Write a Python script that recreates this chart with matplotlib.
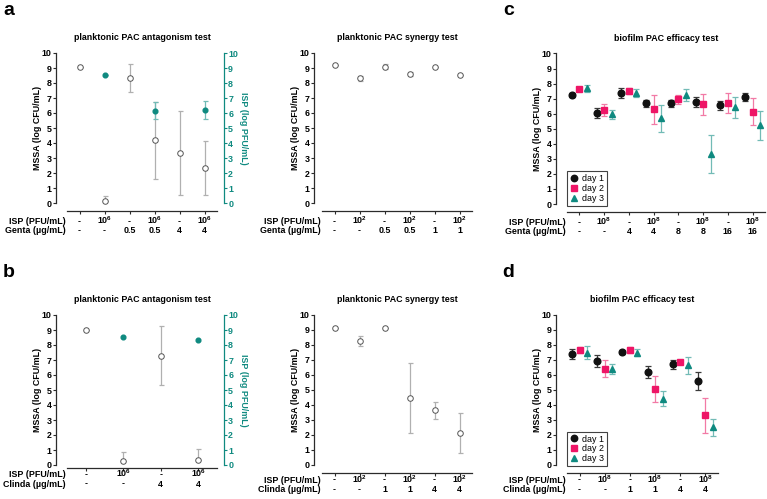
import numpy as np
import matplotlib
matplotlib.use('Agg')
import matplotlib.pyplot as plt
from matplotlib.lines import Line2D

plt.rcParams['font.family'] = ['Liberation Sans', 'DejaVu Sans']
plt.rcParams['font.weight'] = 'bold'
plt.rcParams['axes.titleweight'] = 'bold'
plt.rcParams['axes.labelweight'] = 'bold'
plt.rcParams['mathtext.fontset'] = 'custom'
plt.rcParams['mathtext.rm'] = 'Liberation Sans:bold'
plt.rcParams['mathtext.bf'] = 'Liberation Sans:bold'
plt.rcParams['mathtext.default'] = 'bf'

# ---- panel a: planktonic antagonism (gentamicin) ----
a_isp = ['-', '$10^6$', '-', '$10^6$', '-', '$10^6$']
a_drug = ['-', '-', '0.5', '0.5', '4', '4']
a_mssa = [9.04, 0.16, 8.33, 4.18, 3.33, 2.33]
a_mssa_lo = [9.04, 0.16, 7.40, 1.60, 0.56, 0.56]
a_mssa_hi = [9.04, 0.49, 9.27, 6.73, 6.11, 4.11]
a_phage_x = [1, 3, 5]
a_phage = [8.53, 6.16, 6.22]
a_phage_lo = [8.53, 5.62, 5.62]
a_phage_hi = [8.53, 6.73, 6.82]

# ---- panel a (right): planktonic synergy (gentamicin) ----
a2_isp = ['-', '$10^2$', '-', '$10^2$', '-', '$10^2$']
a2_drug = ['-', '-', '0.5', '0.5', '1', '1']
a2_mssa = [9.18, 8.31, 9.09, 8.62, 9.04, 8.51]
a2_mssa_lo = [9.18, 8.14, 8.93, 8.50, 9.04, 8.51]
a2_mssa_hi = [9.18, 8.46, 9.25, 8.74, 9.04, 8.51]

# ---- panel b: planktonic antagonism (clindamycin) ----
b_isp = ['-', '$10^6$', '-', '$10^6$']
b_drug = ['-', '-', '4', '4']
b_mssa = [9.00, 0.27, 7.29, 0.33]
b_mssa_lo = [9.00, 0.27, 5.31, 0.33]
b_mssa_hi = [9.00, 0.87, 9.29, 1.04]
b_phage_x = [1, 3]
b_phage = [8.53, 8.36]

# ---- panel b (right): planktonic synergy (clindamycin) ----
b2_isp = ['-', '$10^2$', '-', '$10^2$', '-', '$10^2$']
b2_drug = ['-', '-', '1', '1', '4', '4']
b2_mssa = [9.15, 8.23, 9.13, 4.46, 3.62, 2.09]
b2_mssa_lo = [9.15, 7.92, 9.13, 2.14, 3.02, 0.78]
b2_mssa_hi = [9.15, 8.58, 9.13, 6.78, 4.17, 3.45]

# ---- panel c: biofilm efficacy (gentamicin) ----
c_isp = ['-', '$10^8$'] * 4
c_drug = ['-', '-', '4', '4', '8', '8', '16', '16']
c_day1 = [7.23, 6.02, 7.35, 6.68, 6.68, 6.77, 6.55, 7.12]
c_day1_sd = [0.12, 0.33, 0.33, 0.26, 0.25, 0.31, 0.32, 0.28]
c_day2 = [7.63, 6.22, 7.50, 6.28, 6.97, 6.62, 6.70, 6.13]
c_day2_sd = [0.08, 0.40, 0.20, 0.95, 0.30, 0.70, 0.65, 0.90]
c_day3 = [7.68, 5.95, 7.39, 5.69, 7.23, 3.32, 6.42, 5.22]
c_day3_sd = [0.22, 0.31, 0.25, 0.91, 0.40, 1.27, 0.68, 0.94]

# ---- panel d: biofilm efficacy (clindamycin) ----
d_isp = ['-', '$10^8$'] * 3
d_drug = ['-', '-', '1', '1', '4', '4']
d_day1 = [7.37, 6.92, 7.52, 6.18, 6.70, 5.58]
d_day1_sd = [0.33, 0.43, 0.12, 0.39, 0.31, 0.59]
d_day2 = [7.66, 6.40, 7.63, 5.02, 6.83, 3.30]
d_day2_sd = [0.17, 0.58, 0.20, 0.87, 0.10, 1.17]
d_day3 = [7.48, 6.40, 7.48, 4.40, 6.63, 2.48]
d_day3_sd = [0.42, 0.33, 0.22, 0.52, 0.58, 0.57]

axis_col = '#2b2b2b'
gray_edge = '#555555'
gray_err = '#b0b0b0'
teal = '#0f8a80'
pink = '#ee1566'
pink_err = '#f27aa6'
teal_err = '#72bbb6'
black_err = '#3a3a3a'
FS = 6.4

W, H = 767, 499
fig = plt.figure(figsize=(W / 100, H / 100), dpi=100)


def px_axes(x0, x1, y0, y1):
    return fig.add_axes([x0 / W, 1 - y1 / H, (x1 - x0) / W, (y1 - y0) / H])


def style(ax, n, title, left_out=8, bottom_out=6):
    ax.set_xlim(-0.5, n - 0.5)
    ax.set_ylim(0, 10)
    ax.set_yticks(range(11))
    ax.set_xticks(range(n))
    ax.set_xticklabels([])
    ax.patch.set_alpha(0)
    ax.spines[['top', 'right']].set_visible(False)
    ax.spines['left'].set_position(('outward', left_out))
    ax.spines['bottom'].set_position(('outward', bottom_out))
    for s in ['left', 'bottom']:
        ax.spines[s].set_color(axis_col)
        ax.spines[s].set_linewidth(0.9)
    ax.tick_params(axis='x', length=2.5, width=0.8, color=axis_col)
    ax.tick_params(axis='y', length=2.5, width=0.8, color=axis_col,
                   labelsize=FS, pad=0.6)
    ax.set_ylabel('MSSA (log CFU/mL)', fontsize=FS, labelpad=-0.5)
    ax.set_title(title, fontsize=FS, pad=9)


def rows(ax, isp, drug, name, d1, d2):
    tr = ax.get_xaxis_transform()
    for i in range(len(isp)):
        ax.annotate(isp[i], (i, 0), xycoords=tr, xytext=(0, -d1),
                    textcoords='offset points', ha='center', va='baseline', fontsize=FS)
        ax.annotate(drug[i], (i, 0), xycoords=tr, xytext=(0, -d2),
                    textcoords='offset points', ha='center', va='baseline', fontsize=FS)
    ax.annotate('ISP (PFU/mL)', (0, 0), xycoords='axes fraction', xytext=(-1, -d1),
                textcoords='offset points', ha='right', va='baseline', fontsize=FS)
    ax.annotate(name + ' (µg/mL)', (0, 0), xycoords='axes fraction', xytext=(-1, -d2),
                textcoords='offset points', ha='right', va='baseline', fontsize=FS)


def open_points(ax, y, lo, hi):
    x = np.arange(len(y))
    y = np.array(y)
    err = [y - np.array(lo), np.array(hi) - y]
    ax.errorbar(x, y, yerr=err, fmt='none', ecolor=gray_err, elinewidth=0.9,
                capsize=1.8, capthick=0.9, clip_on=False, zorder=2)
    ax.plot(x, y, 'o', ms=4, mfc='white', mec=gray_edge, mew=0.7,
            clip_on=False, zorder=3)


def right_axis(ax):
    ax2 = ax.twinx()
    ax2.set_ylim(0, 10)
    ax2.set_yticks(range(11))
    for s in ['top', 'left', 'bottom']:
        ax2.spines[s].set_visible(False)
    ax2.spines['right'].set_position(('outward', 5))
    ax2.spines['right'].set_color(teal)
    ax2.spines['right'].set_linewidth(0.9)
    ax2.tick_params(axis='y', length=2.5, width=0.8, color=teal, labelcolor=teal,
                    labelsize=FS, pad=0.6)
    ax2.set_ylabel('ISP (log PFU/mL)', fontsize=FS, color=teal, rotation=270,
                   labelpad=7)
    return ax2


def biofilm(ax, d1, s1, d2, s2, d3, s3):
    x = np.arange(len(d1))
    sets = [(d1, s1, -0.3, 'o', '#111111', black_err, 4.8),
            (d2, s2, 0.0, 's', pink, pink_err, 4.6),
            (d3, s3, 0.3, '^', teal, teal_err, 4.6)]
    for y, sd, off, m, c, ec, ms in sets:
        ax.errorbar(x + off, y, yerr=sd, fmt='none', ecolor=ec, elinewidth=0.9,
                    capsize=2.2, capthick=0.9, zorder=2)
        ax.plot(x + off, y, m, ms=ms, color=c, mec=c, zorder=3)
    handles = [Line2D([], [], ls='none', marker='o', ms=4.6, color='#111111'),
               Line2D([], [], ls='none', marker='s', ms=4.4, color=pink),
               Line2D([], [], ls='none', marker='^', ms=4.4, color=teal)]
    leg = ax.legend(handles, ['day 1', 'day 2', 'day 3'], loc='lower left',
                    bbox_to_anchor=(0, -0.01), borderaxespad=0, fancybox=False,
                    prop={'size': FS, 'weight': 'normal'}, handlelength=1,
                    handletextpad=0.4, labelspacing=0.1, borderpad=0.3)
    leg.get_frame().set_edgecolor('#111111')
    leg.get_frame().set_linewidth(0.8)


# panel a left
ax = px_axes(67, 217, 53, 203)
style(ax, 6, 'planktonic PAC antagonism test')
open_points(ax, a_mssa, a_mssa_lo, a_mssa_hi)
rows(ax, a_isp, a_drug, 'Genta', 15, 21.6)
ax2 = right_axis(ax)
py = np.array(a_phage)
ax2.errorbar(a_phage_x, py, yerr=[py - np.array(a_phage_lo), np.array(a_phage_hi) - py],
             fmt='none', ecolor=teal_err, elinewidth=0.9, capsize=1.8, capthick=0.9)
ax2.plot(a_phage_x, py, 'o', ms=3.4, color=teal, zorder=3)

# panel a right
ax = px_axes(322, 472, 53, 203)
style(ax, 6, 'planktonic PAC synergy test', left_out=6)
open_points(ax, a2_mssa, a2_mssa_lo, a2_mssa_hi)
rows(ax, a2_isp, a2_drug, 'Genta', 15, 21.6)

# panel c
ax = px_axes(567, 765, 53.5, 204)
style(ax, 8, 'biofilm PAC efficacy test')
biofilm(ax, c_day1, c_day1_sd, c_day2, c_day2_sd, c_day3, c_day3_sd)
rows(ax, c_isp, c_drug, 'Genta', 15, 21.6)

# panel b left
ax = px_axes(67, 217, 315, 465)
style(ax, 4, 'planktonic PAC antagonism test', bottom_out=2)
open_points(ax, b_mssa, b_mssa_lo, b_mssa_hi)
rows(ax, b_isp, b_drug, 'Clinda', 8.8, 15.5)
ax2 = right_axis(ax)
ax2.plot(b_phage_x, b_phage, 'o', ms=3.4, color=teal, zorder=3)

# panel b right
ax = px_axes(322, 472, 315, 464.5)
style(ax, 6, 'planktonic PAC synergy test', left_out=6)
open_points(ax, b2_mssa, b2_mssa_lo, b2_mssa_hi)
rows(ax, b2_isp, b2_drug, 'Clinda', 13, 20)

# panel d
ax = px_axes(567, 718, 315, 464.5)
style(ax, 6, 'biofilm PAC efficacy test')
biofilm(ax, d_day1, d_day1_sd, d_day2, d_day2_sd, d_day3, d_day3_sd)
rows(ax, d_isp, d_drug, 'Clinda', 13, 20)

# panel letters
for lx, ly, s in [(3, 15, 'a'), (503, 15, 'c'), (3, 277, 'b'), (502, 277, 'd')]:
    fig.text(lx / W, 1 - ly / H, s, fontsize=14, fontweight='bold', va='baseline')

fig.savefig('out.png', dpi=100)
